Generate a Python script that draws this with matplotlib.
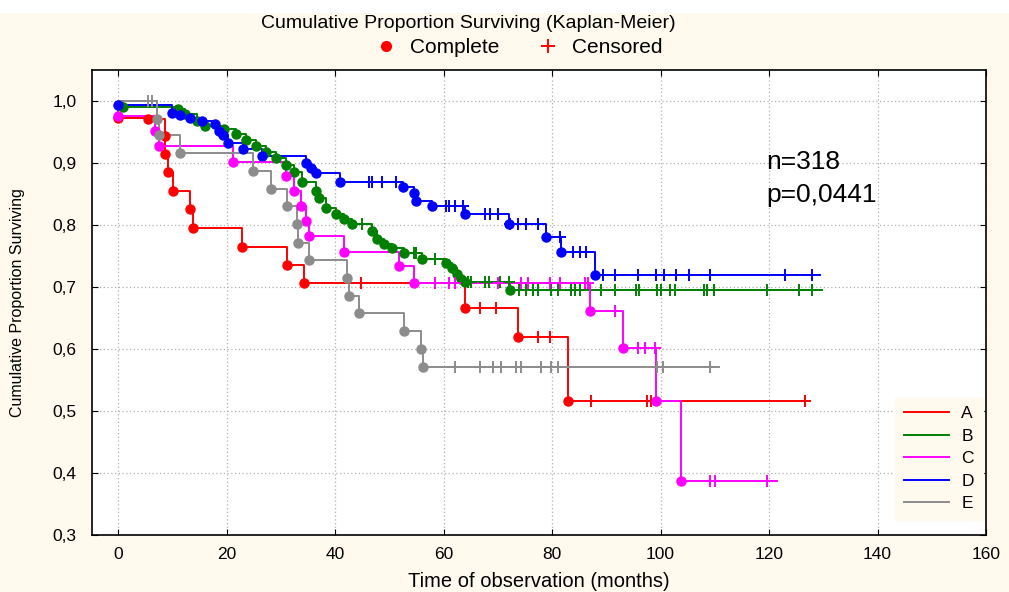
import numpy as np
import matplotlib.pyplot as plt
from matplotlib.lines import Line2D
from matplotlib.patches import Rectangle

plt.rcParams['font.family'] = ['Liberation Sans', 'DejaVu Sans']

# group A (red)
a_t = [0, 5.5, 8.6, 8.6, 9.2, 10.1, 13.2, 13.9, 22.9, 31.2, 34.3, 64.0, 73.8, 83.0]
a_s = [0.973, 0.971, 0.943, 0.915, 0.885, 0.855, 0.826, 0.795, 0.765, 0.736, 0.706, 0.666, 0.619, 0.516]
a_c = [44.8, 66.8, 69.7, 77.4, 79.6, 87.2, 97.6, 98.3, 126.6]
a_end = 126.6

# group B (green)
b_t = [0.9, 11.0, 12.3, 14.5, 16.0, 19.5, 21.8, 23.6, 25.5, 27.3, 29.2, 31.0, 32.5, 34.0, 36.5,
       37.0, 38.3, 40.2, 41.7, 43.1, 46.8, 47.7, 49.0, 50.5, 52.7, 56.0, 60.4, 61.5, 62.4, 63.3,
       64.0, 72.3]
b_s = [0.991, 0.987, 0.979, 0.967, 0.960, 0.955, 0.947, 0.937, 0.927, 0.917, 0.908, 0.896, 0.885,
       0.870, 0.855, 0.843, 0.827, 0.818, 0.810, 0.802, 0.790, 0.777, 0.769, 0.763, 0.755, 0.745,
       0.739, 0.731, 0.721, 0.713, 0.708, 0.695]
b_c = [45.0, 54.5, 55.0, 58.5, 64.6, 65.1, 67.7, 68.3, 70.5, 72.0, 74.0, 75.2, 76.5, 77.5, 79.8,
       81.1, 83.5, 84.2, 85.1, 89.0, 91.6, 95.4, 96.1, 99.4, 100.0, 101.8, 102.6, 108.0, 108.6,
       109.9, 119.6, 125.5, 127.9]
b_end = 129.7

# group C (magenta)
c_t = [0, 6.8, 7.5, 21.1, 31.0, 32.5, 33.8, 34.7, 35.2, 41.7, 51.7, 54.5, 87.0, 93.0, 99.1, 103.7]
c_s = [0.976, 0.952, 0.928, 0.902, 0.879, 0.855, 0.830, 0.806, 0.782, 0.756, 0.734, 0.706,
       0.661, 0.602, 0.516, 0.387]
c_c = [58.5, 61.0, 62.2, 70.1, 74.3, 75.6, 79.6, 81.5, 86.0, 86.6, 91.7, 95.8, 97.2, 98.9,
       109.2, 110.0, 119.6]
c_end = 121.5

# group D (blue)
d_t = [0, 10.0, 11.5, 13.2, 15.5, 17.8, 18.7, 19.3, 20.2, 23.0, 26.6, 34.7, 35.5, 36.5, 41.0,
       52.6, 54.5, 54.9, 57.8, 64.0, 72.0, 78.9, 81.7, 87.9]
d_s = [0.994, 0.981, 0.977, 0.973, 0.968, 0.963, 0.952, 0.945, 0.932, 0.923, 0.911, 0.900,
       0.892, 0.884, 0.869, 0.861, 0.852, 0.839, 0.831, 0.818, 0.802, 0.780, 0.756, 0.720]
d_c = [46.2, 46.8, 48.6, 51.2, 60.4, 61.0, 62.2, 63.5, 67.7, 68.6, 70.1, 72.3, 73.8, 75.2, 77.4,
       81.5, 83.9, 85.1, 86.2, 89.4, 91.6, 95.8, 99.1, 100.7, 102.8, 105.3, 109.2, 122.9, 127.9]
d_end = 129.4

# group E (gray)
e_t = [7.2, 7.5, 11.4, 24.8, 28.2, 31.2, 33.0, 33.2, 35.2, 42.2, 42.5, 44.4, 52.7, 55.8, 56.3]
e_s = [0.971, 0.945, 0.916, 0.887, 0.858, 0.830, 0.802, 0.771, 0.743, 0.715, 0.686, 0.658,
       0.629, 0.600, 0.571]
e_c = [5.5, 6.3, 62.2, 66.8, 69.2, 70.6, 73.4, 74.3, 78.0, 79.8, 81.1, 99.4, 100.4, 109.2]
e_end = 110.8

groups = ["A", "B", "C", "D", "E"]
colors = ["#FF0000", "#008000", "#FF00FF", "#0000FF", "#8C8C8C"]
curves = [(a_t, a_s, a_c, a_end), (b_t, b_s, b_c, b_end), (c_t, c_s, c_c, c_end),
          (d_t, d_s, d_c, d_end), (e_t, e_s, e_c, e_end)]

x_ticks = [0, 20, 40, 60, 80, 100, 120, 140, 160]
y_ticks = [0.3, 0.4, 0.5, 0.6, 0.7, 0.8, 0.9, 1.0]
y_labels = ["0,3", "0,4", "0,5", "0,6", "0,7", "0,8", "0,9", "1,0"]


def step_path(t, s, end, s0=1.0):
    xs, ys = [0.0], [s0]
    prev = s0
    for ti, si in zip(t, s):
        xs += [ti, ti]
        ys += [prev, si]
        prev = si
    xs.append(end)
    ys.append(prev)
    return xs, ys


def level_at(t, s, c, s0=1.0):
    out = []
    for ci in c:
        lv = s0
        for ti, si in zip(t, s):
            if ti <= ci:
                lv = si
        out.append(lv)
    return out


cream = "#FFF9EE"
fig = plt.figure(figsize=(10.09, 5.92), dpi=100, facecolor=cream)
fig.patches.append(Rectangle((0, 1 - 12 / 592), 1, 12 / 592, transform=fig.transFigure,
                             color="white", zorder=0))
ax = fig.add_axes([0.0912, 0.0963, 0.886, 0.7855])
ax.set_facecolor("white")

for (t, s, c, end), col in zip(curves, colors):
    xs, ys = step_path(t, s, end)
    ax.plot(xs, ys, color=col, lw=1.4, zorder=3)
    ax.plot(t, s, ls="none", marker="o", ms=6.5, color=col, zorder=4)
    ax.plot(c, level_at(t, s, c), ls="none", marker="+", ms=9, mew=1.4, color=col, zorder=4)

ax.set_xlim(-4.8, 160)
ax.set_ylim(0.3, 1.05)
ax.set_xticks(x_ticks)
ax.set_yticks(y_ticks)
ax.set_yticklabels(y_labels)
ax.tick_params(direction="in", top=True, right=True, length=4, labelsize=12.5)
ax.tick_params(axis="y", pad=11)
ax.tick_params(axis="x", pad=9)
ax.grid(True, ls=(0, (1, 2)), color="#B0B0B0", lw=0.9)
for sp in ax.spines.values():
    sp.set_linewidth(1.2)

ax.set_xlabel("Time of observation (months)", fontsize=14.5, labelpad=7)
ax.set_ylabel("Cumulative Proportion Surviving", fontsize=11.5,
              family=["Liberation Sans Narrow", "Liberation Sans"], labelpad=20)

ax.text(0.7545, 0.802, "n=318", transform=ax.transAxes, fontsize=19, va="center", ha="left")
ax.text(0.7545, 0.731, "p=0,0441", transform=ax.transAxes, fontsize=19, va="center", ha="left")

handles = [Line2D([], [], color=col, lw=1.4) for col in colors]
leg = ax.legend(handles, groups, loc="lower right", bbox_to_anchor=(1.0, 0.025),
                frameon=True, fontsize=12.5, handlelength=2.6, labelspacing=0.42,
                handletextpad=0.7, borderaxespad=0.2, borderpad=0.5)
leg.get_frame().set_facecolor(cream)
leg.get_frame().set_edgecolor(cream)
leg.get_frame().set_alpha(1)
leg.get_frame().set_boxstyle("square", pad=0)

fig.text(0.464, 0.96, "Cumulative Proportion Surviving (Kaplan-Meier)", ha="center",
         va="center", fontsize=14)
top_handles = [Line2D([], [], color="#FF0000", marker="o", ls="none", ms=7),
               Line2D([], [], color="#FF0000", marker="+", ls="none", ms=10, mew=1.4)]
fig.legend(top_handles, ["Complete", "Censored"], loc="center", bbox_to_anchor=(0.512, 0.92),
           ncol=2, frameon=False, fontsize=15, handletextpad=0.4, columnspacing=1.6,
           handlelength=1.5)

fig.savefig("out.png", dpi=100, facecolor=cream)
